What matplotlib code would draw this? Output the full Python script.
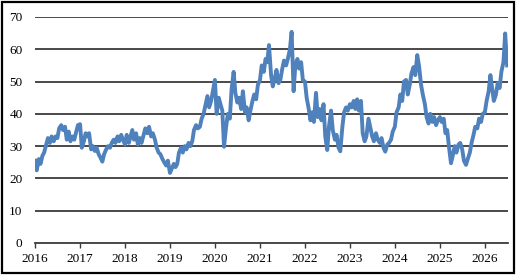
import matplotlib
matplotlib.use("Agg")
import matplotlib.pyplot as plt
import matplotlib.dates as mdates
from matplotlib.patches import Rectangle
import pandas as pd

# semi-monthly readings
START_DATE = "2016-01-01"
VALUES_2016 = [25.5, 22.5, 26, 24.5, 27, 28, 30.5, 32.5, 31, 33, 31.5, 33,
               32.5, 35.5, 36.5, 35, 36, 32, 34.5, 31.5, 33, 32, 34.5, 36.5]
VALUES_2017 = [36.8, 29.5, 31.5, 34, 33, 34, 29, 30, 28.5, 29.5, 27.5, 26.5,
               25.2, 27.5, 29, 30, 29.5, 31, 32, 31, 33, 31.5, 33.5, 32]
VALUES_2018 = [30.5, 33.5, 31, 33, 35, 32, 34, 30.5, 32.5, 31, 33.5, 35.5,
               34, 36, 33, 34, 32, 29.5, 28, 27.5, 26, 25, 24, 25.5]
VALUES_2019 = [21.7, 23, 24.5, 23.5, 24.5, 28, 29.5, 28, 30, 29, 31, 30,
               31.5, 35, 36.5, 35.5, 36, 38.5, 40, 42.5, 45.5, 42, 44, 47]
VALUES_2020 = [50.5, 40, 45, 43, 41, 29.8, 36, 40, 38.5, 47.5, 53, 46.5,
               43.5, 45, 41.5, 47, 40.5, 42, 38, 41, 44, 46, 44.5, 49]
VALUES_2021 = [50.5, 55, 53, 57, 56, 61.3, 52, 48.5, 51, 53.6, 49.5, 50.5,
               54, 56.5, 55, 57, 60, 65.4, 47, 55, 57, 54, 56, 50.5]
VALUES_2022 = [50, 45, 41.5, 38, 40.5, 37.5, 46.5, 39, 41.5, 38, 43, 33,
               28.8, 36, 41, 35, 32, 33.5, 29.5, 28.4, 36, 40.5, 42, 41]
VALUES_2023 = [43, 42, 44, 41.5, 44.5, 41, 44, 34, 31.5, 33, 38.5, 36,
               33, 31.5, 34, 32, 31, 32.5, 29.5, 28.3, 30.5, 31, 32, 34.5]
VALUES_2024 = [36, 40.5, 42, 46, 44, 50, 50.5, 46, 49, 52.5, 54.5, 52,
               58.2, 55, 49, 46, 43, 39, 37, 40, 37.5, 39, 36.5, 38]
VALUES_2025 = [39, 37.5, 38.5, 34, 35, 30, 24.7, 27, 30, 28, 30.5, 31,
               29, 25.5, 24.2, 26, 28, 31, 33.5, 36, 35.5, 38.5, 37.5, 40]
VALUES_2026 = [40.5, 44, 47, 52, 48, 44, 46, 49.5, 48, 53, 56, 64.9, 55]

YEAR_TICKS = list(range(2016, 2027))
Y_TICKS = [0, 10, 20, 30, 40, 50, 60, 70]

values = (VALUES_2016 + VALUES_2017 + VALUES_2018 + VALUES_2019 + VALUES_2020
          + VALUES_2021 + VALUES_2022 + VALUES_2023 + VALUES_2024 + VALUES_2025
          + VALUES_2026)
dates = pd.date_range(START_DATE, periods=len(values), freq="SMS")

plt.rcParams["font.family"] = ["Liberation Serif", "DejaVu Serif"]

fig = plt.figure(figsize=(5.17, 2.75), dpi=100)
ax = fig.add_axes([0.0677, 0.1164, 0.9149, 0.8218])

for v in Y_TICKS[1:]:
    ax.axhline(v, color="#3a3a3a", lw=1.3, zorder=1)

ax.plot(dates, values, color="#4F81BD", lw=2.8, zorder=3, solid_joinstyle="round")

ax.set_ylim(0, 70)
ax.set_xlim(pd.Timestamp("2016-01-01"), pd.Timestamp("2026-07-08"))
ax.set_yticks(Y_TICKS)
ax.set_xticks([pd.Timestamp(f"{y}-01-01") for y in YEAR_TICKS])
ax.xaxis.set_major_formatter(mdates.DateFormatter("%Y"))

for s in ["left", "right", "top"]:
    ax.spines[s].set_visible(False)
ax.spines["bottom"].set_color("#3a3a3a")
ax.spines["bottom"].set_linewidth(1.3)
ax.tick_params(axis="y", length=0, pad=9, labelsize=9.5)
ax.tick_params(axis="x", length=3.5, width=1, direction="out", pad=4,
               labelsize=9.5, color="#3a3a3a")

# outer frame of the picture
fig.patches.append(Rectangle((0.004, 0.006), 0.991, 0.986, transform=fig.transFigure,
                             fill=False, edgecolor="black", lw=1.6))

fig.savefig("out.png", dpi=100)
